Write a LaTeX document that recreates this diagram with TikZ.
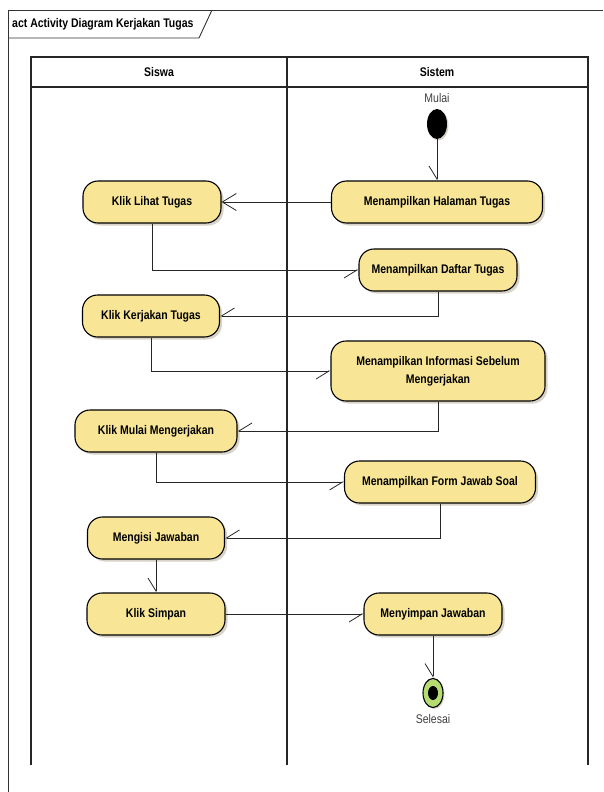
\documentclass[tikz,border=0pt]{standalone}
\usepackage{fontspec}
\setmainfont{Liberation Sans}[FakeStretch=0.84]
\usepackage{tikz}
\usetikzlibrary{positioning, shapes, arrows.meta, shadows}
\definecolor{actfill}{RGB}{248,230,150}
\definecolor{endfill}{RGB}{182,219,112}
\definecolor{shadowgray}{RGB}{216,211,200}
\tikzstyle{Act}=[draw, line width=1.1pt, rounded corners=15pt, fill=actfill, minimum height=42pt, align=center, font=\fontsize{12.5}{18}\selectfont\bfseries, drop shadow={shadow xshift=2.5pt, shadow yshift=-2.5pt, fill=shadowgray, opacity=1}]
\tikzstyle{Flow}=[draw=black!85, line width=0.8pt, -{Straight Barb[harpoon, swap, length=13pt, width=16pt]}]
\tikzstyle{Lane}=[draw=black!85, line width=1.2pt]
\tikzstyle{Caption}=[font=\fontsize{12.5}{14}\selectfont, text=black!75, inner sep=1pt]

\begin{document}
\begin{tikzpicture}[x=1pt, y=1pt]
		\useasboundingbox (0,0) rectangle (603,-792);
		% frame
		\draw[draw=black!80, line width=0.9pt] (8,-792) -- (8,-10) -- (603,-10);
		\draw[draw=black!80, line width=0.9pt] (8,-38) -- (199,-38) -- (212,-10);
		\node[anchor=west, font=\fontsize{12.5}{14}\selectfont\bfseries, inner sep=0pt] (title) at (12,-24) {act Activity Diagram Kerjakan Tugas};
		% swimlanes
		\draw[Lane] (31,-765) -- (31,-57) -- (588,-57) -- (588,-765);
		\draw[Lane] (31,-87) -- (588,-87);
		\draw[Lane] (287,-57) -- (287,-765);
		\node[font=\fontsize{12.5}{14}\selectfont\bfseries] (siswa) at (159,-72) {Siswa};
		\node[font=\fontsize{12.5}{14}\selectfont\bfseries] (sistem) at (437,-72) {Sistem};
		% start and end
		\node[ellipse, fill=black, minimum width=20pt, minimum height=30pt, inner sep=0pt, drop shadow={shadow xshift=1.5pt, shadow yshift=-1.5pt, fill=shadowgray, opacity=1}] (0) at (437,-124) {};
		\node[Caption, above=5pt of 0] (mulai) {Mulai};
		\node[ellipse, draw, line width=1.1pt, fill=endfill, minimum width=20pt, minimum height=29pt, inner sep=0pt, drop shadow={shadow xshift=1.5pt, shadow yshift=-1.5pt, fill=shadowgray, opacity=1}] (11) at (433,-693) {};
		\fill (11.center) ellipse (5pt and 7pt);
		\node[Caption, below=5pt of 11] (selesai) {Selesai};
		% activities
		\node[Act, minimum width=211pt] (1) at (437,-202) {Menampilkan Halaman Tugas};
		\node[Act, minimum width=138pt] (2) at (152,-202) {Klik Lihat Tugas};
		\node[Act, minimum width=158pt] (3) at (438,-270) {Menampilkan Daftar Tugas};
		\node[Act, minimum width=137pt] (4) at (151,-316) {Klik Kerjakan Tugas};
		\node[Act, minimum width=214pt, minimum height=60pt] (5) at (438,-371) {Menampilkan Informasi Sebelum\\Mengerjakan};
		\node[Act, minimum width=162pt] (6) at (156,-431) {Klik Mulai Mengerjakan};
		\node[Act, minimum width=191pt] (7) at (440,-482) {Menampilkan Form Jawab Soal};
		\node[Act, minimum width=137pt] (8) at (156,-538) {Mengisi Jawaban};
		\node[Act, minimum width=138pt] (9) at (156,-614) {Klik Simpan};
		\node[Act, minimum width=138pt] (10) at (433,-614) {Menyimpan Jawaban};
		% flows
		\draw[Flow] (0) -- (1);
		\draw[Flow, -{Straight Barb[length=14pt, width=17pt]}] (1) -- (2);
		\draw[Flow] (2) |- (3);
		\draw[Flow] (3) |- (4);
		\draw[Flow] (4) |- (5);
		\draw[Flow] (5) |- (6);
		\draw[Flow] (6) |- (7);
		\draw[Flow] (7) |- (8);
		\draw[Flow] (8) -- (9);
		\draw[Flow] (9) -- (10);
		\draw[Flow] (10) -- (11);
\end{tikzpicture}
\end{document}
